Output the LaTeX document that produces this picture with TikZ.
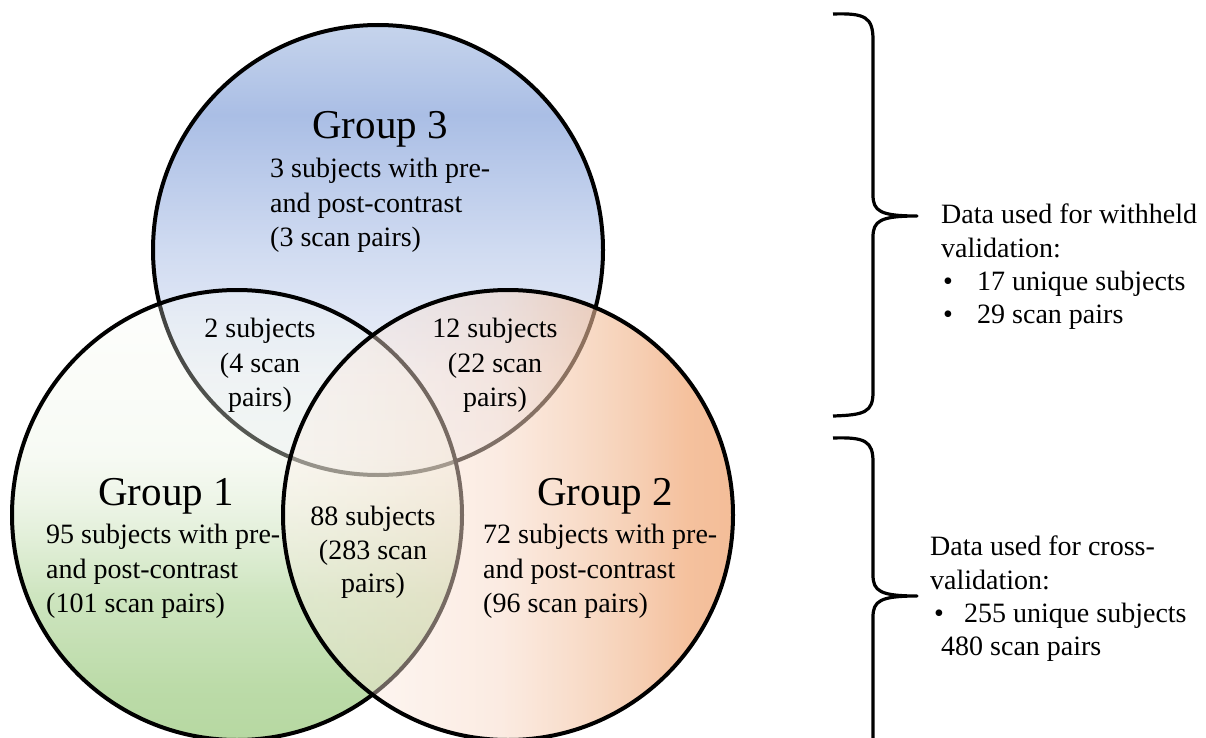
\documentclass[tikz,border=0pt]{standalone}
\usepackage{fontspec}
\setmainfont{Liberation Serif}
\usetikzlibrary{fadings}
\definecolor{gta}{RGB}{198,212,236}
\definecolor{gtb}{RGB}{170,190,229}
\definecolor{gtc}{RGB}{208,219,241}
\definecolor{gtd}{RGB}{238,241,249}
\definecolor{gte}{RGB}{248,249,253}
\definecolor{goa}{RGB}{248,251,244}
\definecolor{gob}{RGB}{236,244,228}
\definecolor{goc}{RGB}{215,232,200}
\definecolor{god}{RGB}{155,202,125}
\definecolor{goe}{RGB}{135,191,100}
\definecolor{gwa}{RGB}{254,240,232}
\definecolor{gwb}{RGB}{248,218,200}
\definecolor{gwc}{RGB}{243,188,150}
\definecolor{gwd}{RGB}{240,162,109}
\pgfdeclareverticalshading{gthree}{100bp}{color(0bp)=(gte); color(25bp)=(gte); color(36bp)=(gtd); color(50bp)=(gtc); color(65bp)=(gtb); color(75bp)=(gta); color(100bp)=(gta)}
\pgfdeclareverticalshading{gone}{100bp}{color(0bp)=(goe); color(25bp)=(goe); color(31bp)=(goe); color(41bp)=(god); color(52bp)=(goc); color(57bp)=(gob); color(74bp)=(goa); color(100bp)=(goa)}
\pgfdeclarehorizontalshading{gtwo}{100bp}{color(0bp)=(gwa); color(25bp)=(gwa); color(49bp)=(gwb); color(61bp)=(gwc); color(70bp)=(gwd); color(75bp)=(gwd); color(100bp)=(gwd)}
\tikzfading[name=onefade, top color=transparent!75, bottom color=transparent!40]
\tikzfading[name=twofade, left color=transparent!65, right color=transparent!30]
\tikzset{
  ring/.style={line width=4pt, draw=black},
  title/.style={font=\fontsize{41}{41}\selectfont, inner sep=0pt, anchor=base},
  body/.style={font=\fontsize{28}{34.5}\selectfont, inner sep=0pt, align=left, anchor=north west},
  mid/.style={font=\fontsize{28}{34.5}\selectfont, inner sep=0pt, align=center, anchor=north},
  side/.style={font=\fontsize{28}{33.3}\selectfont, inner sep=0pt, align=left, anchor=north west},
  brace/.style={line width=3.2pt, draw=black, line cap=butt, line join=round}
}
\begin{document}
\begin{tikzpicture}[x=1pt,y=-1pt]
\clip (0,0) rectangle (1206,738);
\fill[white] (0,0) rectangle (1206,738);
% Group 3
\shade[shading=gthree] (378,250) circle[radius=225];
\draw[ring] (378,250) circle[radius=225];
% Group 1
\shade[shading=gone, path fading=onefade, fit fading=true] (237,515) circle[radius=225];
\draw[ring] (237,515) circle[radius=225];
% Group 2
\shade[shading=gtwo, path fading=twofade, fit fading=true] (508,515) circle[radius=225];
\draw[ring] (508,515) circle[radius=225];
% texts
\node[title] (g3title) at (380,139) {Group 3};
\node[body] (g3text) at (270,158) {3 subjects with pre-\\and post-contrast\\(3 scan pairs)};
\node[mid] (g13) at (260,318) {2 subjects\\(4 scan\\pairs)};
\node[mid] (g23) at (495,318) {12 subjects\\(22 scan\\pairs)};
\node[title] (g1title) at (166,505) {Group 1};
\node[body] (g1text) at (46,524) {95 subjects with pre-\\and post-contrast\\(101 scan pairs)};
\node[mid, font=\fontsize{28}{33.5}\selectfont] (g12) at (373,506) {88 subjects\\(283 scan\\pairs)};
\node[title] (g2title) at (605,505) {Group 2};
\node[body] (g2text) at (483,524) {72 subjects with pre-\\and post-contrast\\(96 scan pairs)};
% braces
\draw[brace] (833,14) .. controls (865,13) and (873,17) .. (873,40) -- (873,195)
  .. controls (873,211) and (880,216) .. (917,216)
  .. controls (880,216) and (873,221) .. (873,237) -- (873,392)
  .. controls (873,412) and (865,415) .. (833,416);
\draw[brace] (833,438) .. controls (865,437) and (873,441) .. (873,462) -- (873,575)
  .. controls (873,591) and (880,596) .. (917,596)
  .. controls (880,596) and (873,601) .. (873,617) -- (873,745);
\node[side] (withheld) at (941,204) {Data used for withheld\\validation:\\\hspace*{2pt}\makebox[34pt][l]{•}17 unique subjects\\\hspace*{2pt}\makebox[34pt][l]{•}29 scan pairs};
\node[side] (crossval) at (930,536) {Data used for cross-\\validation:\\\hspace*{4pt}\makebox[30pt][l]{•}255 unique subjects\\\hspace*{11pt}480 scan pairs};
\end{tikzpicture}
\end{document}
